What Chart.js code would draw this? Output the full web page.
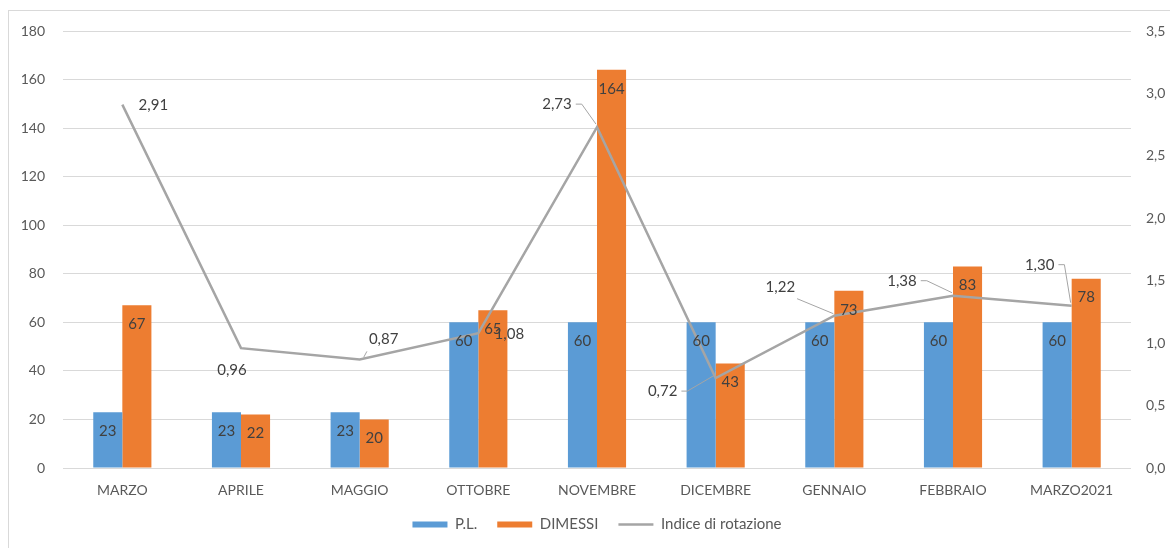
<!DOCTYPE html>
<html>
<head>
<meta charset="utf-8">
<script src="https://cdn.jsdelivr.net/npm/chart.js@4/dist/chart.umd.min.js"></script>
<style>
  html, body { margin: 0; padding: 0; background: #fff; }
  #wrap { position: relative; width: 1170px; height: 548px; }
</style>
</head>
<body>
<div id="wrap"><canvas id="myChart" width="1170" height="548"></canvas></div>
<script>
const mesi = ['MARZO', 'APRILE', 'MAGGIO', 'OTTOBRE', 'NOVEMBRE', 'DICEMBRE', 'GENNAIO', 'FEBBRAIO', 'MARZO2021'];
const pl = [23, 23, 23, 60, 60, 60, 60, 60, 60];
const dimessi = [67, 22, 20, 65, 164, 43, 73, 83, 78];
const indice = [2.91, 0.96, 0.87, 1.08, 2.73, 0.72, 1.22, 1.38, 1.30];
const leftTicks = [0, 20, 40, 60, 80, 100, 120, 140, 160, 180];
const rightTicks = [0, 0.5, 1, 1.5, 2, 2.5, 3, 3.5];

// where each index label sits relative to its point, and what kind of leader it gets
const indicePos = [
    { dx: 31, dy: 0, leader: null },
    { dx: -9, dy: 22, leader: null },
    { dx: 24, dy: -20, leader: 'corner' },
    { dx: 31, dy: 1, leader: null },
    { dx: -40, dy: -23, leader: 'stub' },
    { dx: -53, dy: 13, leader: 'stub' },
    { dx: -54, dy: -29, leader: 'corner' },
    { dx: -51, dy: -15, leader: 'stub' },
    { dx: -32, dy: -41, leader: 'stub' }
];

const FONT = 'Lato, "Liberation Sans", sans-serif';
const virgola = (v, d) => v.toFixed(d).replace('.', ',');

const frame = {
    id: 'frame',
    beforeDraw(chart) {
        const ctx = chart.ctx;
        ctx.save();
        ctx.strokeStyle = '#d9d9d9';
        ctx.lineWidth = 1;
        ctx.strokeRect(8.5, 10.5, 1300, 700);
        ctx.restore();
    }
};

const etichette = {
    id: 'etichette',
    afterDatasetsDraw(chart) {
        const ctx = chart.ctx;
        ctx.save();
        ctx.font = '15px ' + FONT;
        ctx.fillStyle = '#404040';
        ctx.textAlign = 'center';
        ctx.textBaseline = 'middle';
        // bar values, just inside the top of each bar
        [0, 1].forEach(di => {
            const meta = chart.getDatasetMeta(di);
            meta.data.forEach((bar, i) => {
                ctx.fillText(String(chart.data.datasets[di].data[i]), bar.x, bar.y + 19);
            });
        });
        // index values with leader lines
        const meta = chart.getDatasetMeta(2);
        meta.data.forEach((pt, i) => {
            const p = indicePos[i];
            const lx = pt.x + p.dx;
            const ly = pt.y + p.dy;
            const txt = virgola(indice[i], 2);
            const w = ctx.measureText(txt).width;
            ctx.fillStyle = '#404040';
            ctx.fillText(txt, lx, ly);
            if (p.leader) {
                ctx.strokeStyle = '#a5a5a5';
                ctx.lineWidth = 1;
                ctx.beginPath();
                if (p.leader === 'stub') {
                    const sx = lx + w / 2 + 4;
                    ctx.moveTo(sx, ly);
                    ctx.lineTo(sx + 6, ly);
                    ctx.lineTo(pt.x - 1, pt.y - 3);
                } else {
                    const sx = p.dx > 0 ? lx - w / 2 - 2 : lx + w / 2 + 2;
                    ctx.moveTo(sx, ly + (p.dy > 0 ? -8 : 12));
                    ctx.lineTo(pt.x + (p.dx > 0 ? 4 : -1), pt.y - 2);
                }
                ctx.stroke();
            }
        });
        ctx.restore();
    }
};

const ctx = document.getElementById('myChart').getContext('2d');
new Chart(ctx, {
    data: {
        labels: mesi,
        datasets: [
            {
                type: 'bar',
                label: 'P.L.',
                data: pl,
                backgroundColor: '#5b9bd5',
                borderWidth: 0,
                barPercentage: 1.0,
                categoryPercentage: 0.49,
                yAxisID: 'y',
                pointStyle: 'rect',
                order: 1
            },
            {
                type: 'bar',
                label: 'DIMESSI',
                data: dimessi,
                backgroundColor: '#ed7d31',
                borderWidth: 0,
                barPercentage: 1.0,
                categoryPercentage: 0.49,
                yAxisID: 'y',
                pointStyle: 'rect',
                order: 1
            },
            {
                type: 'line',
                label: 'Indice di rotazione',
                data: indice,
                borderColor: '#a5a5a5',
                backgroundColor: '#a5a5a5',
                borderWidth: 2.5,
                pointRadius: 0,
                pointHoverRadius: 0,
                pointStyle: 'line',
                tension: 0,
                yAxisID: 'y1',
                order: 0
            }
        ]
    },
    options: {
        responsive: false,
        animation: false,
        events: [],
        layout: { padding: { left: 0, right: 0, top: 31, bottom: 6 } },
        plugins: {
            tooltip: { enabled: false },
            legend: {
                position: 'bottom',
                fullSize: false,
                labels: {
                    usePointStyle: true,
                    pointStyleWidth: 35,
                    boxHeight: 6,
                    padding: 20,
                    color: '#595959',
                    font: { family: FONT, size: 15 },
                    sort: (a, b) => a.datasetIndex - b.datasetIndex
                }
            }
        },
        scales: {
            x: {
                grid: { display: false, drawTicks: false },
                border: { display: false },
                ticks: { color: '#595959', padding: 14, font: { family: FONT, size: 14 } },
                afterFit(s) { s.height = 29; }
            },
            y: {
                position: 'left',
                min: 0,
                max: 180,
                afterBuildTicks(s) { s.ticks = leftTicks.map(v => ({ value: v })); },
                grid: { color: '#d9d9d9', lineWidth: 1, drawTicks: false },
                border: { display: false },
                ticks: { color: '#595959', padding: 18, font: { family: FONT, size: 14 } },
                afterFit(s) { s.width = 63; }
            },
            y1: {
                position: 'right',
                min: 0,
                max: 3.5,
                afterBuildTicks(s) { s.ticks = rightTicks.map(v => ({ value: v })); },
                grid: { display: false, drawTicks: false },
                border: { display: false },
                ticks: {
                    color: '#595959',
                    padding: 15,
                    font: { family: FONT, size: 14 },
                    callback: v => virgola(v, 1)
                },
                afterFit(s) { s.width = 39; }
            }
        }
    },
    plugins: [frame, etichette]
});
</script>
</body>
</html>
